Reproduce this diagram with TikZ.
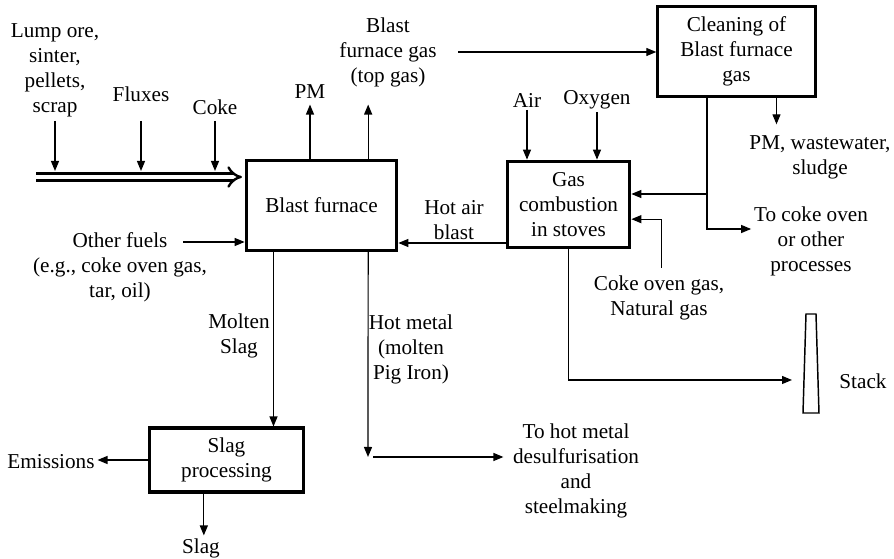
\documentclass[tikz,border=0pt]{standalone}
\usepackage{fontspec}
\setmainfont{Liberation Serif}
\usetikzlibrary{arrows.meta}

\begin{document}
\begin{tikzpicture}[x=0.75pt,y=-0.75pt,
  every node/.style={inner sep=2pt,align=center,
    font=\fontsize{15.9}{18.75}\selectfont},
  box/.style={draw,line width=2.3pt},
  arr/.style={-{Triangle[length=7.5pt,width=6pt]},line width=0.9pt},
  feed/.style={double,line width=1.8pt,double distance=3.6pt,-{Implies}}]
\useasboundingbox (0,0) rectangle (894,559);
% process boxes
\node[box,minimum width=113pt,minimum height=67pt] (bf) at (321.5,205.5) {Blast furnace};
\node[box,minimum width=92pt,minimum height=65pt] (gas) at (568.5,204.5) {Gas\\ combustion\\ in stoves};
\node[box,minimum width=118pt,minimum height=67pt] (clean) at (736.5,51.5) {Cleaning of\\ Blast furnace\\ gas};
\node[box,minimum width=115pt,minimum height=48pt] (slagp) at (226.5,460) {Slag\\ processing};
% labels
\node (lump) at (55,70) {Lump ore,\\ sinter,\\ pellets,\\ scrap};
\node (fluxes) at (141,94) {Fluxes};
\node (coke) at (215,107) {Coke};
\node (pm) at (310,92) {PM};
\node (bfg) at (388,52) {Blast\\ furnace gas\\ (top gas)};
\node (air) at (527,100) {Air};
\node (oxygen) at (597,100) {Oxygen};
\node (pmw) at (820,157) {PM, wastewater,\\ sludge};
\node (tocoke) at (811,241) {To coke oven\\ or other\\ processes};
\node (cog) at (659,298) {Coke oven gas,\\ Natural gas};
\node (stack) at (863,381) {Stack};
\node (hab) at (454,220) {Hot air\\ blast};
\node (fuels) at (120,267) {Other fuels\\ (e.g., coke oven gas,\\ tar, oil)};
\node (molten) at (239,336) {Molten\\ Slag};
\node (hotmetal) at (411,349) {Hot metal\\ (molten\\ Pig Iron)};
\node (todesulf) at (576,471) {To hot metal\\ desulfurisation\\ and\\ steelmaking};
\node (emis) at (51,462) {Emissions};
\node (slag) at (201,548) {Slag};
% helper points
\coordinate (feedin) at (36,177);
\coordinate (dropin) at (0,121);
\coordinate (feedtop) at (0,171);
\coordinate (split) at (707,194);
\coordinate (chimney) at (792,380);
\coordinate (blast) at (0,243);
\coordinate (hmend) at (368,457);
\coordinate (fuelsout) at ([shift={(-20pt,18.75pt)}]fuels.east);
% stack
\draw[line width=1.1pt] (806,314) -- (816,314) -- (819,413) -- (803,413) -- cycle;
% charge
\draw[feed,shorten >=2pt] (feedin) -- (feedin -| bf.west);
\draw[arr] (lump.south |- dropin) -- (lump.south |- feedtop);
\draw[arr] (fluxes.south |- dropin) -- (fluxes.south |- feedtop);
\draw[arr] (coke.south |- dropin) -- (coke.south |- feedtop);
% top of furnace
\draw[arr,shorten >=2pt] (bf.north -| pm) -- (pm.south);
\draw[arr,shorten >=2pt] ([xshift=35pt]bf.north) -- ([xshift=35pt]bf.north |- pm.south);
\draw[arr,shorten <=14pt] (bfg.east) -- (bfg.east -| clean.west);
% gas cleaning and stoves
\draw[arr] (air.south) -- (air.south |- gas.north);
\draw[arr] (oxygen.south) -- (oxygen.south |- gas.north);
\draw[arr,shorten >=6pt] ([xshift=30pt]clean.south) -- ([xshift=30pt]clean.south |- pmw.north);
\draw[line width=0.9pt] (clean.south -| split) -- (split);
\draw[arr] (split) -- (split -| gas.east);
\draw[arr] (split) |- ([yshift=9pt]tocoke.west);
\draw[arr,shorten <=4pt] ([xshift=2pt]cog.north) |- ([yshift=-11pt]gas.east);
\draw[arr] (gas.south) |- (chimney);
\draw[arr] (gas.west |- blast) -- (bf.east |- blast);
\draw[arr] (fuelsout) -- (fuelsout -| bf.west);
% furnace products
\draw[arr] ([xshift=-36pt]bf.south) -- ([xshift=-36pt]bf.south |- slagp.north);
\draw[arr] ([xshift=35pt]bf.south) -- (hmend);
\draw[arr,shorten >=5pt] (hmend) ++(4pt,0) -- (hmend -| todesulf.west);
\draw[arr] (slagp.west) -- (slagp.west -| emis.east);
\draw[arr] ([xshift=-17pt]slagp.south) -- ([xshift=-17pt]slagp.south |- slag.north);
\end{tikzpicture}
\end{document}
